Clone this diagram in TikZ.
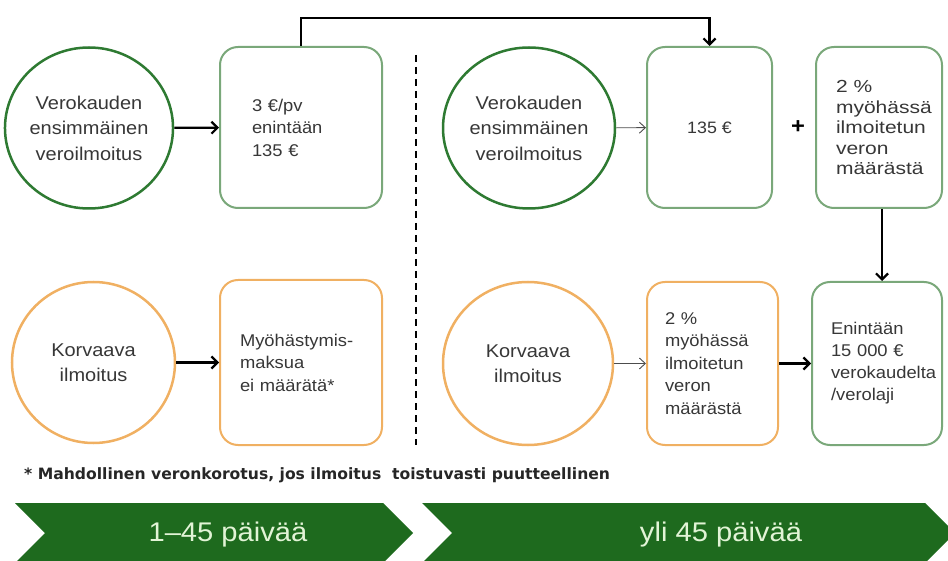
\documentclass[tikz,border=0pt]{standalone}
\usepackage{fontspec}
\setmainfont{Liberation Sans}[FakeStretch=1.08]
\newfontfamily\notefont{DejaVu Sans}
\usepackage{xcolor}
\usetikzlibrary{shapes.geometric,arrows.meta,positioning}
\definecolor{ringgreen}{RGB}{46,122,50}
\definecolor{boxgreen}{RGB}{122,168,122}
\definecolor{ringorange}{RGB}{240,176,98}
\definecolor{bandgreen}{RGB}{30,106,30}
\definecolor{bandtext}{RGB}{226,244,214}
\definecolor{inktext}{RGB}{55,55,55}

\begin{document}
\begin{tikzpicture}
  [x=1pt,y=-1pt,
   ring/.style={ellipse,draw,line width=2.5pt,inner sep=0pt,align=center,text=inktext,
     font=\fontsize{18.5}{25.5}\selectfont},
   panel/.style={draw,line width=2pt,rounded corners=18pt,align=left,text=inktext,
     font=\fontsize{17}{22.5}\selectfont},
   thick arr/.style={draw,line width=2.2pt,-{Straight Barb[length=6pt,width=12pt]}},
   thin arr/.style={draw,line width=0.9pt,black!70,-{Straight Barb[length=6pt,width=11pt]}},
   band/.style={fill=bandgreen,draw=none}]
  \useasboundingbox (0,0) rectangle (948,561);
  \clip (0,0) rectangle (948,561);

  % first column: 1-45 days
  \node[ring,draw=ringgreen,minimum width=158pt,minimum height=161pt] (c1) at (89,128)
    {Verokauden\\ensimmäinen\\ veroilmoitus};
  \node[panel,draw=boxgreen,minimum height=161pt,text width=98pt,inner xsep=32pt] (b1) at (301,127.5)
    {3 €/pv\\enintään\\135 €};
  \node[ring,draw=ringorange,minimum width=163pt,minimum height=161pt] (c2) at (93.5,362.5)
    {Korvaava\\ilmoitus};
  \node[panel,draw=ringorange,minimum height=165pt,text width=122pt,inner xsep=20pt] (b2) at (301,362.5)
    {Myöhästymis-\\maksua\\ei määrätä*};

  % second column: over 45 days
  \node[ring,draw=ringgreen,minimum width=172pt,minimum height=161pt] (c3) at (529,128)
    {Verokauden\\ensimmäinen\\ veroilmoitus};
  \node[panel,draw=boxgreen,minimum height=161pt,minimum width=125pt,align=center,
    font=\fontsize{16.5}{18}\selectfont] (b3) at (709.5,127.5) {135 €};
  \node[font=\fontsize{22}{22}\bfseries\selectfont,inner sep=0pt] (plus) at (798,127) {+};
  \node[panel,draw=boxgreen,minimum height=161pt,text width=86pt,inner xsep=20pt,
    font=\addfontfeatures{FakeStretch=1.2}\fontsize{17.5}{20.5}\selectfont] (b4) at (879,127.5)
    {2 \%\\myöhässä\\ilmoitetun\\veron\\määrästä};
  \node[ring,draw=ringorange,minimum width=170pt,minimum height=163pt] (c5) at (528,363.5)
    {Korvaava\\ilmoitus};
  \node[panel,draw=ringorange,minimum height=163pt,text width=95pt,inner xsep=18pt,
    font=\fontsize{17}{22.5}\selectfont] (b5) at (712.5,363.5)
    {2 \%\\myöhässä\\ilmoitetun\\veron\\määrästä};
  \node[panel,draw=boxgreen,minimum height=163pt,text width=92pt,inner xsep=19pt,
    font=\fontsize{17}{22}\selectfont] (b6) at (877,363.5)
    {Enintään\\15 000 €\\verokaudelta\\/verolaji};

  % connectors
  \coordinate (top) at (301,18);
  \foreach \from/\to in {c1/b1,c2/b2,b5/b6}
    \path[thick arr] (\from) -- (\to);
  \foreach \from/\to in {c3/b3,c5/b5}
    \path[thin arr] (\from) -- (\to);
  \path[thick arr] (b1.north) -- (top) -| (b3.north);
  \path[thick arr] ([xshift=3pt]b4.south) -- ([xshift=3pt]b4.south |- b6.north);

  % divider
  \draw[line width=2.4pt,dash pattern=on 7pt off 5pt] (416,55) -- (416,445);

  % footnote
  \node[anchor=west,inner sep=0pt,font=\notefont\fontsize{15.6}{17}\bfseries\selectfont,text=black!85] (note) at (24,475)
    {* Mahdollinen veronkorotus, jos ilmoitus\ \ toistuvasti puutteellinen};

  % time bands
  \fill[band] (15,503) -- (383,503) -- (413,533) -- (383,563) -- (15,563) -- (45,533) -- cycle;
  \fill[band] (422,503) -- (925,503) -- (955,533) -- (925,563) -- (422,563) -- (452,533) -- cycle;
  \node[text=bandtext,font=\fontsize{27}{27}\selectfont] (d1) at (228,535) {1–45 päivää};
  \node[text=bandtext,font=\fontsize{27}{27}\selectfont] (d2) at (721,535) {yli 45 päivää};
\end{tikzpicture}
\end{document}
